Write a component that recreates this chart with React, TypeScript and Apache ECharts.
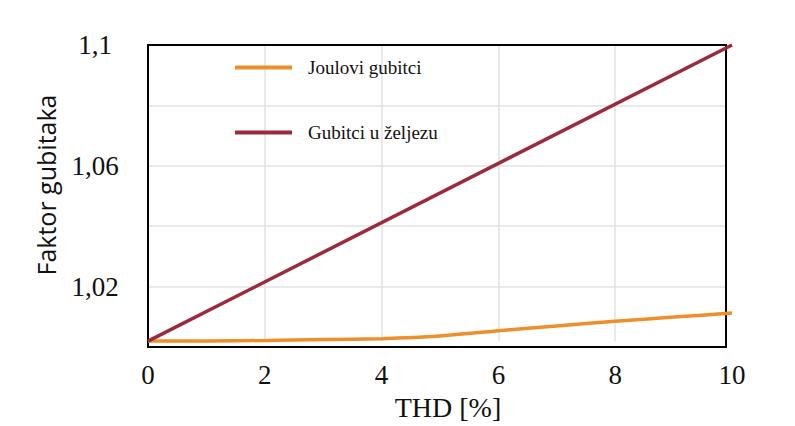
import React, { useEffect, useRef } from 'react';
import * as echarts from 'echarts';

const thd = [0, 1, 2, 3, 4, 5, 6, 7, 8, 9, 10];
const jouleLoss = [1.0, 1.0, 1.0002, 1.0005, 1.0008, 1.0017, 1.0035, 1.0051, 1.0067, 1.0081, 1.0095];
const ironThd = [0, 10];
const ironLoss = [1.0, 1.1];
const yLabelValues = [1.02, 1.06, 1.1];
const yLabelTexts = ['1,02', '1,06', '1,1'];
const seriesNames = ['Joulovi gubitci', 'Gubitci u željezu'];
const seriesColors = ['#ee8f2c', '#9c2a3c'];

export default function App() {
  const ref = useRef<HTMLDivElement>(null);
  useEffect(() => {
    if (!ref.current) return;
    const chart = echarts.init(ref.current, null, { renderer: 'svg' });
    const serif = 'Liberation Serif';
    const legendCommon = {
      orient: 'vertical',
      left: 230,
      icon: 'rect',
      itemWidth: 57,
      itemHeight: 4,
      selectedMode: false,
      textStyle: { fontFamily: serif, fontSize: 19, color: '#111', padding: [4, 0, 0, 11] },
    };
    chart.setOption({
      animation: false,
      backgroundColor: '#fff',
      grid: [
        { left: 148, top: 45, right: 69, bottom: 79, show: true, borderColor: '#000', borderWidth: 2, backgroundColor: 'transparent', z: 3 },
        { left: 148, top: 45, right: 63, bottom: 79 },
      ],
      legend: [
        { ...legendCommon, top: 53, data: [seriesNames[0]] },
        { ...legendCommon, top: 118, data: [seriesNames[1]] },
      ],
      xAxis: [
        { gridIndex: 0, type: 'value', min: 0, max: 10, show: false },
        {
          gridIndex: 1, type: 'value', min: 0, max: 10, interval: 2,
          axisLine: { show: false }, axisTick: { show: false },
          axisLabel: { fontFamily: serif, fontSize: 27, color: '#111', margin: 20 },
          splitLine: { show: true, showMinLine: false, showMaxLine: false, lineStyle: { color: '#e2e2e2', width: 1.5 } },
          name: 'THD [%]', nameLocation: 'middle', nameGap: 51,
          nameTextStyle: { fontFamily: serif, fontSize: 28, color: '#111', padding: [0, 0, 0, 16] },
        },
      ],
      yAxis: [
        {
          gridIndex: 0, type: 'value', min: 1.0, max: 1.1, interval: 0.02,
          axisLine: { show: false }, axisTick: { show: false },
          axisLabel: {
            fontFamily: serif, fontSize: 27, color: '#111', margin: 53, align: 'center',
            formatter: (v: number) => {
              const i = yLabelValues.findIndex((t) => Math.abs(t - v) < 1e-6);
              return i >= 0 ? yLabelTexts[i] : '';
            },
          },
          splitLine: { show: true, showMinLine: false, showMaxLine: false, lineStyle: { color: '#e2e2e2', width: 1.5 } },
          name: 'Faktor gubitaka', nameLocation: 'middle', nameGap: 90,
          nameTextStyle: { fontFamily: 'Open Sans', fontSize: 25, color: '#111', padding: [0, 0, 0, 22] },
        },
        { gridIndex: 1, type: 'value', min: 1.0, max: 1.1, show: false },
      ],
      series: [
        {
          name: seriesNames[0], type: 'line', xAxisIndex: 1, yAxisIndex: 1,
          data: thd.map((x, i) => [x, jouleLoss[i]]),
          showSymbol: false, symbol: 'none', clip: false, smooth: 0.2,
          lineStyle: { color: seriesColors[0], width: 3.5 }, itemStyle: { color: seriesColors[0] },
        },
        {
          name: seriesNames[1], type: 'line', xAxisIndex: 1, yAxisIndex: 1,
          data: ironThd.map((x, i) => [x, ironLoss[i]]),
          showSymbol: false, symbol: 'none', clip: false,
          lineStyle: { color: seriesColors[1], width: 3.5 }, itemStyle: { color: seriesColors[1] },
        },
      ],
    });
    return () => chart.dispose();
  }, []);
  return <div ref={ref} style={{ position: 'absolute', left: 0, top: 0, width: 795, height: 426 }} />;
}
